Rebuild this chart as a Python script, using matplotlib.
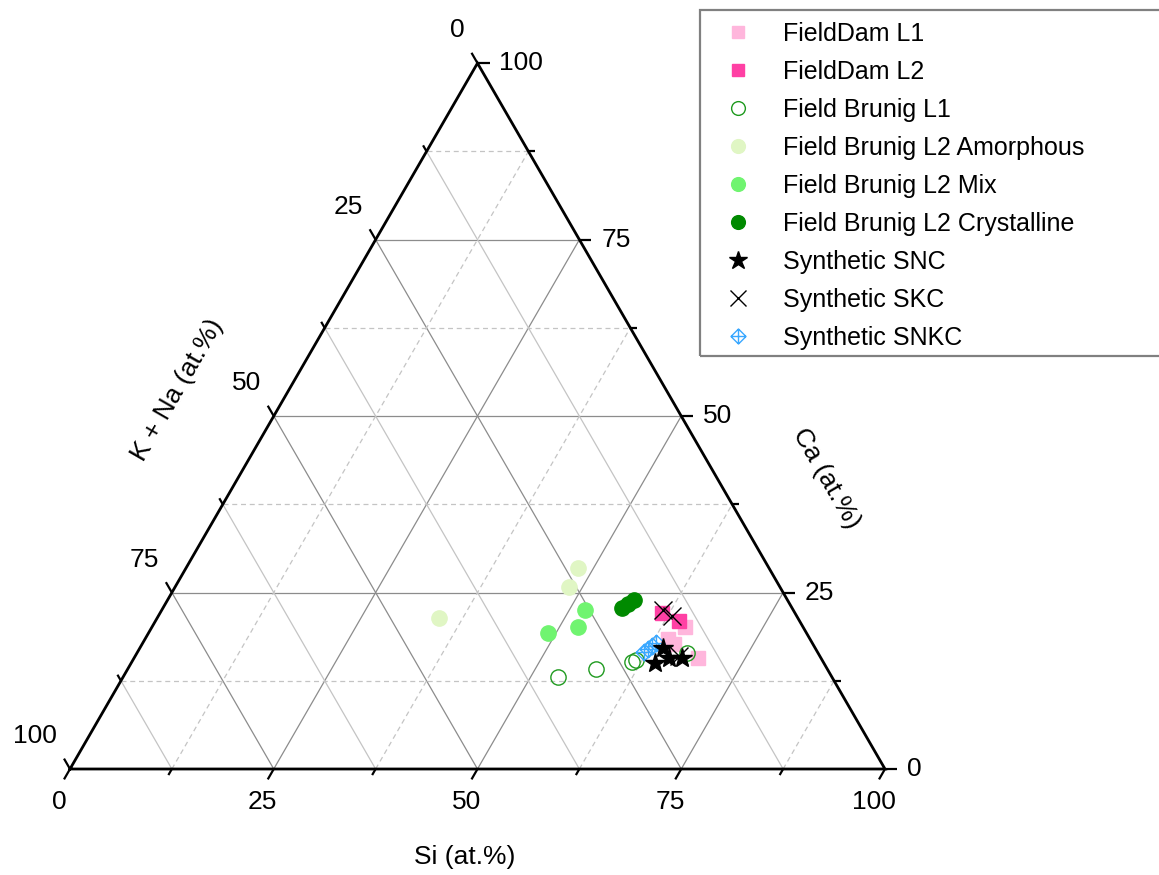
import numpy as np
import matplotlib
matplotlib.use("Agg")
import matplotlib.pyplot as plt
from matplotlib import font_manager
from matplotlib.path import Path
from matplotlib.patches import Rectangle

# ---------------- data (at.%) : Si, Ca, K+Na ----------------
dam_l1_si = [65.4, 64.2, 65.3, 69.2]
dam_l1_ca = [20.1, 18.4, 17.7, 15.7]

dam_l2_si = [61.6, 64.2]
dam_l2_ca = [22.1, 21.0]

brunig_l1_si = [53.3, 57.5, 61.3, 61.8, 67.5]
brunig_l1_ca = [13.1, 14.1, 15.2, 15.4, 16.4]

brunig_amor_si = [48.1, 48.3, 34.6]
brunig_amor_ca = [28.5, 25.8, 21.4]

brunig_mix_si = [51.9, 52.3, 49.0]
brunig_mix_ca = [22.5, 20.1, 19.2]

brunig_cryst_si = [56.3, 56.8, 57.2]
brunig_cryst_ca = [22.8, 23.4, 23.9]

snc_si = [64.3, 65.7, 67.2, 64.2]
snc_ca = [15.0, 15.7, 15.7, 17.2]

skc_si = [61.5, 63.0, 66.7]
skc_ca = [22.5, 21.7, 16.0]

snkc_si = [62.1, 62.4, 62.7, 62.9]
snkc_ca = [16.6, 17.0, 17.4, 17.9]

major_ticks = [0, 25, 50, 75, 100]
minor_ticks = [12.5, 37.5, 62.5, 87.5]
tick_labels = ["0", "25", "50", "75", "100"]

series_labels = ["FieldDam L1", "FieldDam L2", "Field Brunig L1",
                 "Field Brunig L2 Amorphous", "Field Brunig L2 Mix",
                 "Field Brunig L2 Crystalline", "Synthetic SNC",
                 "Synthetic SKC", "Synthetic SNKC"]

# ---------------- fonts ----------------
names = {f.name for f in font_manager.fontManager.ttflist}
if "Liberation Sans Narrow" in names:
    FAM = ["Liberation Sans Narrow", "Liberation Sans", "DejaVu Sans"]
    FS, LFS = 20, 20
else:
    FAM = ["Liberation Sans", "DejaVu Sans"]
    FS, LFS = 19, 18
plt.rcParams["font.family"] = FAM

S3 = np.sqrt(3) / 2
PX = 1 / 815.0  # one pixel in data units


def tern(si, ca):
    si = np.asarray(si, float)
    ca = np.asarray(ca, float)
    return (si + ca / 2) / 100, ca * S3 / 100


fig = plt.figure(figsize=(11.59, 8.75), dpi=100)
ax = fig.add_axes([0, 0, 1, 1])
ax.set_xlim(-70 * PX, (1159 - 70) * PX)
ax.set_ylim((769 - 875) * PX, 769 * PX)
ax.axis("off")

# ---------------- grid ----------------
MAJ_C = "#8c8c8c"
MIN_C = "#c4c4c4"
for v in major_ticks[1:-1] + minor_ticks:
    major = v in major_ticks
    x, y = tern([v, v], [0, 100 - v])
    ax.plot(x, y, color=MAJ_C if major else MIN_C, lw=0.9,
            ls="-" if major else (0, (4, 3)), zorder=1)
    x, y = tern([0, 100 - v], [v, v])
    ax.plot(x, y, color=MAJ_C if major else MIN_C, lw=0.9,
            ls="-" if major else (0, (4, 3)), zorder=1)
    x, y = tern([100 - v, 0], [0, 100 - v])
    ax.plot(x, y, color=MAJ_C if major else MIN_C, lw=0.9, ls="-", zorder=1)

# triangle
x, y = tern([0, 100, 0, 0], [0, 0, 100, 0])
ax.plot(x, y, color="black", lw=2.0, zorder=3, solid_joinstyle="miter")

# ---------------- ticks ----------------
def tick(px_, py_, dx, dy, length):
    ax.plot([px_, px_ + dx * length * PX], [py_, py_ + dy * length * PX],
            color="black", lw=1.6, zorder=3, solid_capstyle="butt")

for v in major_ticks + minor_ticks:
    L = 12 if v in major_ticks else 7
    bx, by = tern(v, 0)
    tick(bx, by, -0.5, -S3, L)
    rx, ry = tern(100 - v, v)
    tick(rx, ry, 1, 0, L)
    lx, ly = tern(0, 100 - v)
    tick(lx, ly, -0.5, S3, L)

for v, lab in zip(major_ticks, tick_labels):
    bx, by = tern(v, 0)
    ax.text(bx - 11 * PX, by - 33 * PX, lab, ha="center", va="center", fontsize=FS)
    rx, ry = tern(100 - v, v)
    ax.text(rx + 22 * PX, ry, lab, ha="left", va="center", fontsize=FS)
    lx, ly = tern(0, 100 - v)
    ax.text(lx - 13 * PX, ly + 33 * PX, lab, ha="right", va="center", fontsize=FS)

ax.text((465 - 70) * PX, (769 - 857) * PX, "Si (at.%)", ha="center", va="center", fontsize=FS)
ax.text((826 - 70) * PX, (769 - 478) * PX, "Ca (at.%)", ha="center", va="center",
        rotation=-60, rotation_mode="anchor", fontsize=FS)
ax.text((177 - 70) * PX, (769 - 390) * PX, "K + Na (at.%)", ha="center", va="center",
        rotation=60, rotation_mode="anchor", fontsize=FS)

# ---------------- series ----------------
diam_cross = Path([(0, 1), (1, 0), (0, -1), (-1, 0), (0, 1), (0, 1), (0, -1), (-1, 0), (1, 0)],
                  [Path.MOVETO, Path.LINETO, Path.LINETO, Path.LINETO, Path.CLOSEPOLY,
                   Path.MOVETO, Path.LINETO, Path.MOVETO, Path.LINETO])

handles = []
x, y = tern(dam_l1_si, dam_l1_ca)
handles.append(ax.plot(x, y, ls="none", marker="s", ms=10, mfc="#ffb6dc", mec="#ffb6dc", zorder=5)[0])
x, y = tern(dam_l2_si, dam_l2_ca)
handles.append(ax.plot(x, y, ls="none", marker="s", ms=10, mfc="#ff40a4", mec="#ff40a4", zorder=5)[0])
x, y = tern(brunig_l1_si, brunig_l1_ca)
handles.append(ax.plot(x, y, ls="none", marker="o", ms=11, mfc="none", mec="#1f9a1f", mew=1.0, zorder=5)[0])
x, y = tern(brunig_amor_si, brunig_amor_ca)
handles.append(ax.plot(x, y, ls="none", marker="o", ms=11, mfc="#e0f6c4", mec="#e0f6c4", zorder=5)[0])
x, y = tern(brunig_mix_si, brunig_mix_ca)
handles.append(ax.plot(x, y, ls="none", marker="o", ms=11, mfc="#70f470", mec="#70f470", zorder=5)[0])
x, y = tern(brunig_cryst_si, brunig_cryst_ca)
handles.append(ax.plot(x, y, ls="none", marker="o", ms=11, mfc="#008a00", mec="#008a00", zorder=5)[0])
x, y = tern(snc_si, snc_ca)
handles.append(ax.plot(x, y, ls="none", marker="*", ms=15, mfc="black", mec="black", zorder=6)[0])
x, y = tern(skc_si, skc_ca)
handles.append(ax.plot(x, y, ls="none", marker="x", ms=13, mec="black", mew=1.0, zorder=6)[0])
x, y = tern(snkc_si, snkc_ca)
handles.append(ax.plot(x, y, ls="none", marker=diam_cross, ms=12, mfc="none", mec="#3aa8ff", mew=1.0, zorder=5)[0])

# ---------------- legend ----------------
fig.patches.append(Rectangle((700 / 1159, 1 - 356 / 875), 470 / 1159, 346 / 875,
                             transform=fig.transFigure, fill=False, edgecolor="#808080",
                             lw=1.6, zorder=0))
leg = fig.legend(handles, series_labels, loc="upper left",
                 bbox_to_anchor=(725 / 1159, 1 - 22 / 875), frameon=False,
                 fontsize=LFS, handlelength=1.0, handletextpad=1.3,
                 labelspacing=0.56, borderpad=0, borderaxespad=0, markerscale=0.9)

fig.savefig("out.png", dpi=100)
